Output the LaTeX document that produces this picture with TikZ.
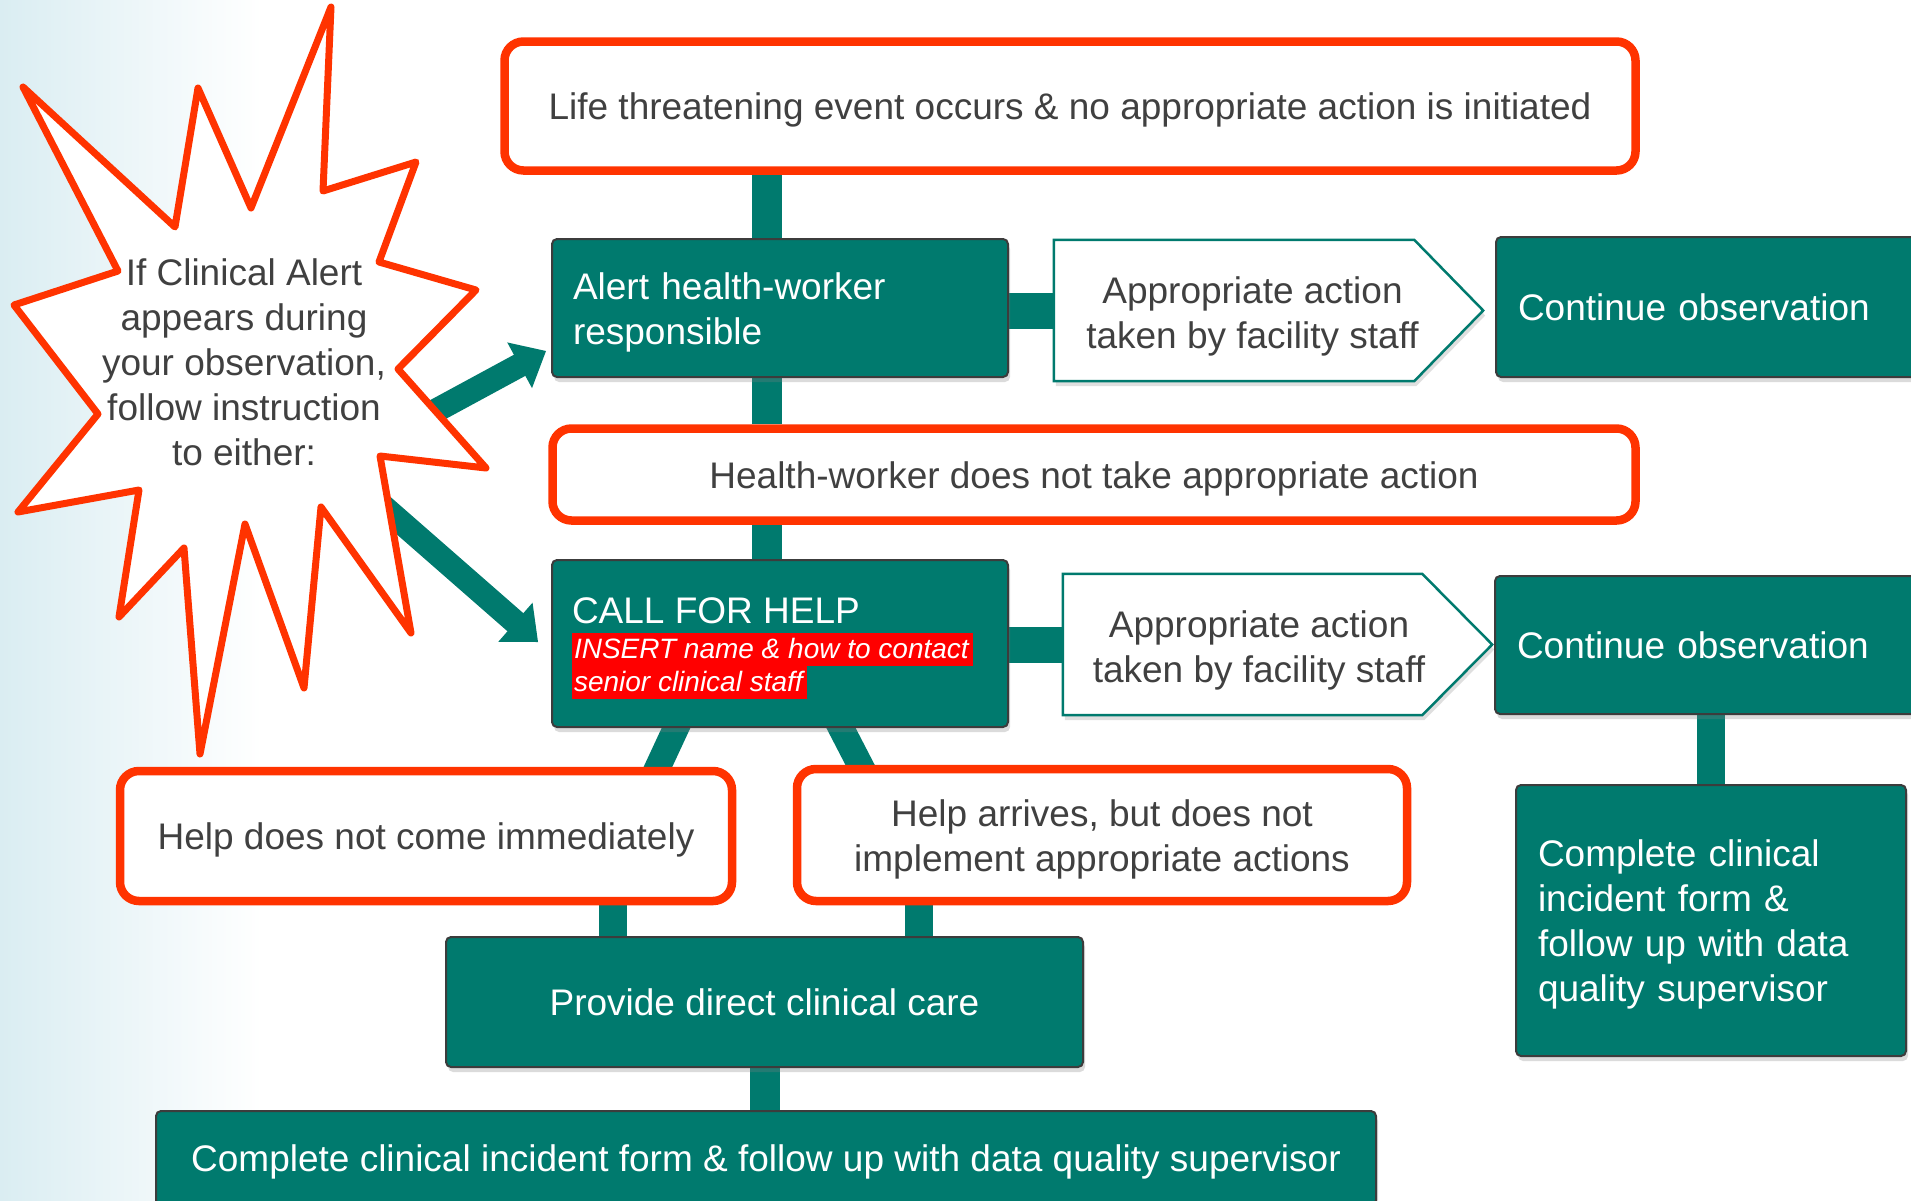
\documentclass[tikz,border=0pt]{standalone}
\usepackage{fontspec}
\setmainfont{Liberation Sans}
\usetikzlibrary{calc,shadows}

\definecolor{flowteal}{HTML}{007A6E}
\definecolor{alertred}{HTML}{FF3300}
\definecolor{inkgray}{HTML}{404040}
\definecolor{edgegray}{HTML}{3C3C3C}
\definecolor{skyblue}{HTML}{DAEDF2}
\definecolor{markred}{HTML}{FF0000}

\pgfdeclarelayer{bg}
\pgfdeclarelayer{links}
\pgfsetlayers{bg,links,main}

% red highlight behind a line of italic text
\newcommand{\hilite}[1]{{\setlength{\fboxsep}{0pt}\colorbox{markred}{\hspace{2pt}\rule[-7pt]{0pt}{33pt}#1\hspace{4pt}}}}
% extra headroom so text with descenders sits on the optical centre
\newcommand{\headroom}{\rule{0pt}{35pt}}

\tikzset{
  txt/.style={font=\fontsize{37}{45}\selectfont},
  tealbox/.style={txt, draw=edgegray, line width=2pt, fill=flowteal, text=white,
    rounded corners=5pt, inner ysep=0pt,
    drop shadow={shadow xshift=2pt, shadow yshift=-5pt, opacity=0.28}},
  redbox/.style={txt, draw=alertred, line width=8.5pt, fill=white, text=inkgray,
    rounded corners=19pt, align=center, inner sep=0pt},
  chevframe/.style={draw=flowteal, line width=2.5pt, fill=white,
    drop shadow={shadow xshift=2pt, shadow yshift=-5pt, opacity=0.25}},
  chevtext/.style={txt, text=inkgray, align=center},
  link/.style={draw=flowteal, line width=30pt},
  sidelink/.style={draw=flowteal, line width=36pt},
  slantlink/.style={draw=flowteal, line width=26pt, shorten <=-10pt, shorten >=-10pt},
  pointer/.style={draw=flowteal, line width=24pt},
  burstline/.style={draw=alertred, fill=white, line width=7pt, line join=round},
}

\begin{document}
\begin{tikzpicture}[x=1pt,y=-1pt]
\useasboundingbox (0,0) rectangle (1911,1200);

% background wash
\begin{pgfonlayer}{bg}
  \fill[white] (0,0) rectangle (1911,1200);
  \shade[left color=skyblue, right color=white] (0,0) rectangle (262,1200);
\end{pgfonlayer}

% main column
\node[redbox, minimum width=1131pt, minimum height=129pt] (top) at (1070,106)
  {\headroom Life threatening event occurs \& no appropriate action is initiated};

\node[tealbox, minimum height=138pt, text width=414pt, inner xsep=21pt, align=left] (alert) at (780,308)
  {\headroom Alert health-worker\\responsible};

\node[redbox, minimum width=1083pt, minimum height=92pt] (health) at (1094,474.5)
  {\headroom Health-worker does not take appropriate action};

\node[tealbox, minimum height=167pt, inner xsep=20pt] (call) at (780,643.5)
  {\parbox{416pt}{\vspace*{10pt}\fontsize{37}{37}\selectfont CALL FOR HELP\par\vspace{2pt}%
   \fontsize{28}{33}\selectfont\itshape\hilite{INSERT name \& how to contact}\par
   \hilite{senior clinical staff}}};

% first branch: appropriate action
\node[minimum width=429pt, minimum height=141pt, inner sep=0pt] (chev1) at (1268.5,310.5) {};
\path[chevframe] (chev1.north west) -- ($(chev1.north east)+(-69,0)$) -- (chev1.east)
  -- ($(chev1.south east)+(-69,0)$) -- (chev1.south west) -- cycle;
\node[chevtext] (chev1txt) at ($(chev1.center)+(-16,6)$) {Appropriate action\\taken by facility staff};

\node[tealbox, minimum height=140pt, text width=394pt, inner xsep=22pt, align=left] (cont1) at (1715,307)
  {Continue observation};

% second branch: appropriate action after call
\node[minimum width=429pt, minimum height=141pt, inner sep=0pt] (chev2) at (1277.5,644.5) {};
\path[chevframe] (chev2.north west) -- ($(chev2.north east)+(-70,0)$) -- (chev2.east)
  -- ($(chev2.south east)+(-70,0)$) -- (chev2.south west) -- cycle;
\node[chevtext] (chev2txt) at ($(chev2.center)+(-18.5,5.5)$) {Appropriate action\\taken by facility staff};

\node[tealbox, minimum height=138pt, text width=395pt, inner xsep=22pt, align=left] (cont2) at (1714.5,645)
  {Continue observation};

\node[tealbox, minimum height=271pt, text width=346pt, inner xsep=22pt, align=left] (rcomp) at (1711,920.5)
  {\headroom Complete clinical\\incident form \&\\follow up with data\\quality supervisor};

% escalation
\node[redbox, minimum width=612pt, minimum height=130pt] (helpno) at (426,836)
  {\headroom Help does not come immediately};
\node[redbox, minimum width=610pt, minimum height=132pt] (helparr) at (1102,835)
  {\headroom Help arrives, but does not\\implement appropriate actions};

\node[tealbox, minimum width=637pt, minimum height=130pt, align=center] (provide) at (764.5,1002)
  {Provide direct clinical care};

\node[tealbox, minimum width=1220pt, minimum height=94pt, align=center] (bottom) at (766,1158)
  {\headroom Complete clinical incident form \& follow up with data quality supervisor};

% starburst callout
\path[burstline] (331,7) -- (323,191) -- (416,162) -- (379,262) -- (476,290) -- (398,369)
  -- (486,468) -- (380,456) -- (411,633) -- (321,507) -- (304,688) -- (245,524)
  -- (200,754) -- (184,548) -- (119,617) -- (139,490) -- (18,512) -- (98,414)
  -- (14,305) -- (118,271) -- (23,87) -- (175,227) -- (198,88) -- (251,208) -- cycle;
\node[txt, text=inkgray, align=center] (burst) at (244,362)
  {If Clinical Alert\\appears during\\your observation,\\follow instruction\\to either:};

% connectors
\begin{pgfonlayer}{links}
  \coordinate (spine) at (767,0);
  \draw[link] (spine |- top.south) -- (spine |- alert.north);
  \draw[link] (spine |- alert.south) -- (spine |- health.north);
  \draw[link] (spine |- health.south) -- (spine |- call.north);

  \draw[sidelink] (alert.east |- chev1.west) -- (chev1.west);
  \draw[sidelink] (call.east |- chev2.west) -- (chev2.west);
  \draw[link, line width=28pt] (rcomp.north) -- (rcomp.north |- cont2.south);

  \draw[slantlink] ($(call.south)+(-104,0)$) -- ($(helpno.north)+(232,0)$);
  \draw[slantlink] ($(call.south)+(61,0)$) -- ($(helparr.north)+(-242,0)$);

  \coordinate (lcol) at ($(provide.north west)+(168,0)$);
  \coordinate (rcol) at ($(provide.north west)+(474,0)$);
  \draw[link, line width=28pt] (lcol |- helpno.south) -- (lcol);
  \draw[link, line width=28pt] (rcol |- helparr.south) -- (rcol);
  \draw[link] (provide.south) -- (provide.south |- bottom.north);

  % arrows out of the callout
  \coordinate (src1) at (330,468);
  \coordinate (src2) at (330,460);
  \coordinate (tip1) at ($(alert.west)+(-5,43)$);
  \coordinate (tip2) at ($(call.west)+(-13,-1.5)$);
  \draw[pointer] (src1) -- ($(tip1)!28pt!(src1)$);
  \fill[flowteal] (tip1) -- ($(tip1)!30pt!(src1)!26pt!90:(tip1)$)
    -- ($(tip1)!30pt!(src1)!26pt!-90:(tip1)$) -- cycle;
  \draw[pointer] (src2) -- ($(tip2)!28pt!(src2)$);
  \fill[flowteal] (tip2) -- ($(tip2)!30pt!(src2)!26pt!90:(tip2)$)
    -- ($(tip2)!30pt!(src2)!26pt!-90:(tip2)$) -- cycle;
\end{pgfonlayer}
\end{tikzpicture}
\end{document}
